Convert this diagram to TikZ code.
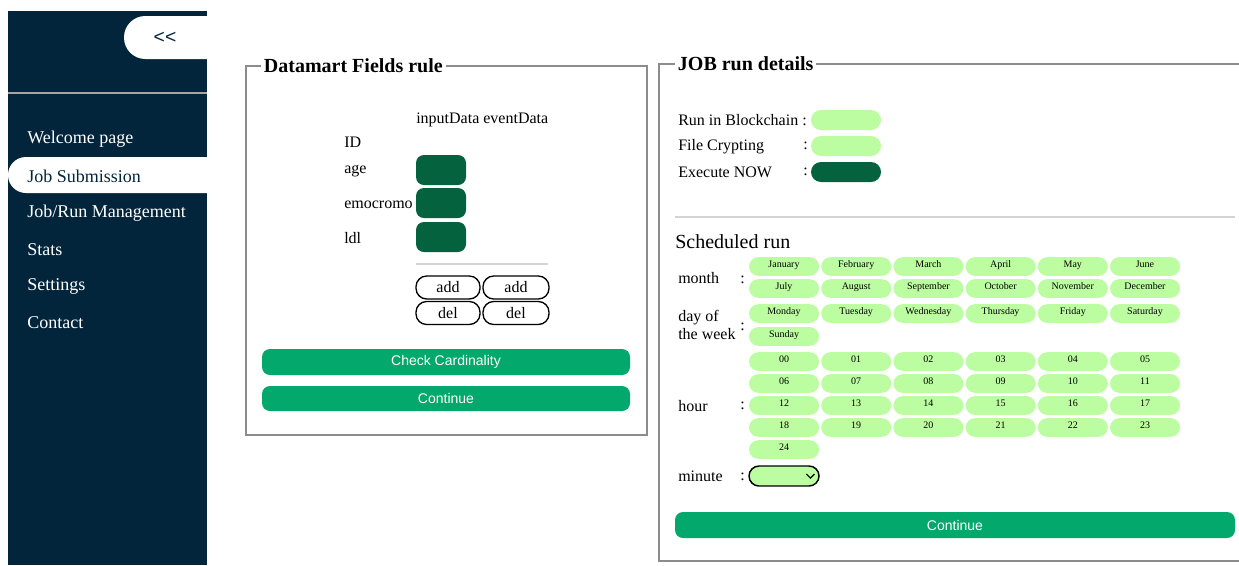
\documentclass[tikz,border=0pt]{standalone}
\usepackage{fontspec}
\setmainfont{Liberation Serif}
\newfontfamily\btnfont{Liberation Sans}
\usetikzlibrary{positioning,calc}
\definecolor{navy}{RGB}{3, 37, 60}
\definecolor{verdeoscuro}{RGB}{4, 98, 62}
\definecolor{verdeboton}{RGB}{3, 168, 108}
\definecolor{verdeclaro}{RGB}{188, 253, 161}
\definecolor{marco}{RGB}{140, 140, 140}
\definecolor{linea}{RGB}{212, 212, 212}
\tikzset{
  menu/.style={anchor=west,text=white,font=\fontsize{13.5}{16}\selectfont,inner sep=0pt,yshift=-1.2pt},
  legenda/.style={anchor=west,font=\fontsize{15}{18}\selectfont\bfseries,inner sep=2pt},
  etichetta/.style={anchor=west,font=\fontsize{12}{14}\selectfont,inner sep=0pt,yshift=-1pt},
  frame/.style={draw=marco,line width=1.2pt},
  campo/.style={fill=verdeoscuro,rounded corners=6pt,minimum width=37.5pt,minimum height=22.5pt},
  tasto/.style={draw=black,line width=1pt,fill=white,rounded corners=8pt,font=\fontsize{12}{14}\selectfont,
                minimum height=17.25pt,inner sep=0pt},
  bottone/.style={fill=verdeboton,text=white,rounded corners=6pt,font=\btnfont\fontsize{10.5}{12}\selectfont,
                  minimum width=276pt,minimum height=19.5pt,inner sep=0pt},
  switch/.style={fill=verdeclaro,rounded corners=7.5pt,minimum width=52.5pt,minimum height=15pt},
  pill/.style={fill=verdeclaro,rounded corners=7pt,minimum width=52.5pt,inner sep=2pt,
               text height=6pt,text depth=4pt,font=\fontsize{7.5}{9}\selectfont},
}

\begin{document}
\begin{tikzpicture}[x=0.75pt,y=-0.75pt]
  \useasboundingbox (0,0) rectangle (1239,565);

  % sidebar
  \fill[navy] (8,11) rectangle (207,565);
  \draw[gray!70,line width=0.8pt] (8,93) -- (207,93);
  \begin{scope}
    \clip (8,11) rectangle (207,565);
    \fill[white,rounded corners=16pt] (124,16) rectangle (240,59);
    \fill[white,rounded corners=13.5pt] (8,157) rectangle (240,193);
  \end{scope}
  \node[font=\btnfont\fontsize{14.5}{16}\selectfont,text=navy] (collapse) at (165,38) {<<};
  \node[menu] (welcome) at (27,138) {Welcome page};
  \node[menu,text=navy] (jobsub) at (27,175) {Job Submission};
  \node[menu] (jobrun) at (27,212) {Job/Run Management};
  \node[menu] (stats) at (27,248) {Stats};
  \node[menu] (settings) at (27,285) {Settings};
  \node[menu] (contact) at (27,321) {Contact};

  % Datamart Fields rule
  \node[legenda] (lgfields) at (261,66) {Datamart Fields rule};
  \draw[frame] (lgfields.west) -| (246,435) -| (647,66) -- (lgfields.east);
  \node[etichetta] (colonne) at (416,119) {inputData eventData};
  \node[etichetta] (fid) at (344,141) {ID};
  \node[etichetta] (fage) at (344,170) {age};
  \node[etichetta] (femo) at (344,203) {emocromo};
  \node[etichetta] (fldl) at (344,237) {ldl};
  \node[campo] (bage) at (441,170) {};
  \node[campo] (bemo) at (441,203) {};
  \node[campo] (bldl) at (441,237) {};
  \draw[linea,line width=1pt] (416,264) -- (548,264);
  \node[tasto,minimum width=48pt] (add1) at (448,287.5) {add};
  \node[tasto,minimum width=49.5pt] (add2) at (516,287.5) {add};
  \node[tasto,minimum width=48pt] (del1) at (448,313) {del};
  \node[tasto,minimum width=49.5pt] (del2) at (516,313) {del};
  \node[bottone] (check) at (446,362) {Check Cardinality};
  \node[bottone,minimum height=18.75pt] (cont1) at (446,398.5) {Continue};

  % JOB run details
  \node[legenda] (lgjob) at (675,64) {JOB run details};
  \draw[frame] (lgjob.west) -| (659,561) -- (1239,561);
  \draw[frame] (lgjob.east) -- (1239,64);
  \node[etichetta] (blockchain) at (678,119) {Run in Blockchain :};
  \node[etichetta] (crypt) at (678,145) {File Crypting};
  \node[etichetta] (now) at (678,171) {Execute NOW};
  \node[etichetta] at (803,145) {:};
  \node[etichetta] at (803,171) {:};
  \node[switch] (sblock) at (846,120) {};
  \node[switch] (scrypt) at (846,146) {};
  \node[switch,fill=verdeoscuro] (snow) at (846,172) {};
  \draw[linea,line width=1pt] (675,217) -- (1235,217);
  \node[etichetta,font=\fontsize{15}{18}\selectfont] (sched) at (675,240) {Scheduled run};

  % months
  \node[etichetta] (lmonth) at (678,277) {month};
  \node[etichetta] at (740,279) {:};
  \foreach \m [count=\i from 0] in {January,February,March,April,May,June}
    \node[pill] (m\i) at ({784+72.2*\i},266.5) {\m};
  \foreach \m [count=\i from 6] in {July,August,September,October,November,December}
    \node[pill] (m\i) at ({784+72.2*(\i-6)},288.5) {\m};

  % days of the week
  \node[etichetta,align=left,font=\fontsize{12}{13.5}\selectfont] (lday) at (678,324) {day of\\the week};
  \node[etichetta] at (740,326) {:};
  \foreach \d [count=\i from 0] in {Monday,Tuesday,Wednesday,Thursday,Friday,Saturday}
    \node[pill] (d\i) at ({784+72.2*\i},313.5) {\d};
  \node[pill] (d6) at (784,336.5) {Sunday};

  % hours
  \node[etichetta] (lhour) at (678,405) {hour};
  \node[etichetta] at (740,405) {:};
  \foreach \h [count=\i from 0] in {00,01,02,03,04,05,06,07,08,09,10,11,12,13,14,15,16,17,18,19,20,21,22,23,24}
    \node[pill] (h\i) at ({784+72.2*mod(\i,6)},{361.5+22*int(\i/6)}) {\h};

  % minute
  \node[etichetta] (lminute) at (678,475) {minute};
  \node[etichetta] at (740,476) {:};
  \node[switch,draw=black,line width=1.1pt] (minsel) at (784,476) {};
  \draw[line width=0.9pt] ([xshift=-10pt,yshift=1.5pt]minsel.east) -- ([xshift=-7pt,yshift=-1.5pt]minsel.east)
    -- ([xshift=-4pt,yshift=1.5pt]minsel.east);

  \node[bottone,minimum width=420pt] (cont2) at (955,525) {Continue};
\end{tikzpicture}
\end{document}
